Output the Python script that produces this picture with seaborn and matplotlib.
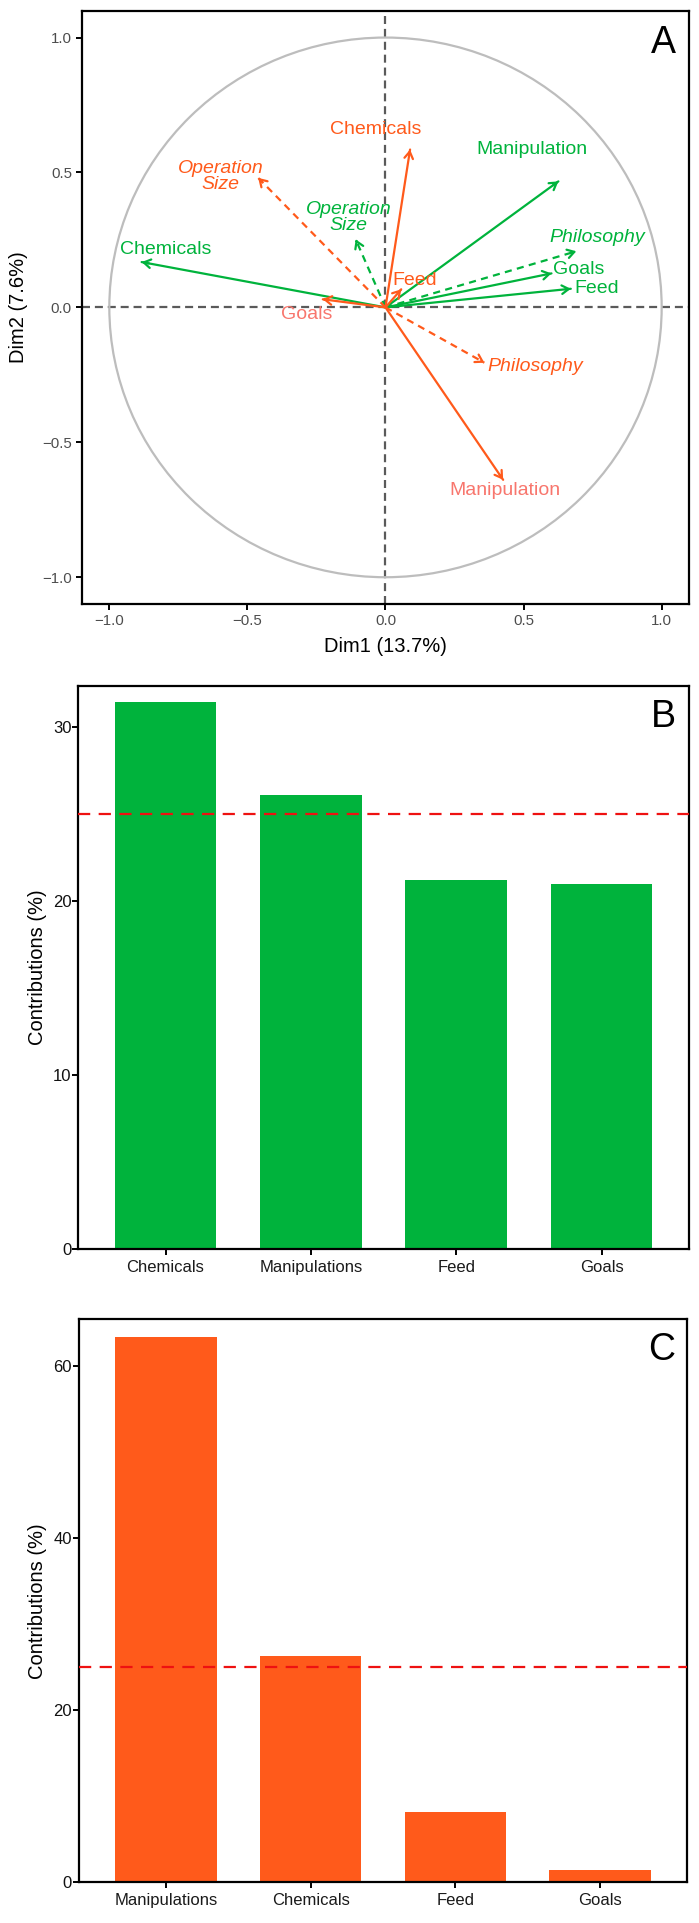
import pandas as pd
import seaborn as sns
import matplotlib.pyplot as plt
from matplotlib.patches import Circle

sns.set_style("ticks")
plt.rcParams['font.family'] = ['Liberation Sans', 'DejaVu Sans']
plt.rcParams['text.color'] = 'black'
plt.rcParams['axes.labelcolor'] = 'black'

GREEN = "#00B33C"
ORANGE = "#FF5A1B"
SALMON = "#F8766D"

# Panel A: variable loadings on Dim1 / Dim2
green_vars = ["Chemicals", "Manipulation", "Philosophy", "Goals", "Feed", "Operation\nSize"]
green_dim1 = [-0.883, 0.626, 0.691, 0.601, 0.671, -0.108]
green_dim2 = [0.168, 0.467, 0.208, 0.126, 0.069, 0.252]

orange_vars = ["Chemicals", "Operation\nSize", "Feed", "Goals", "Philosophy", "Manipulation"]
orange_dim1 = [0.089, -0.461, 0.057, -0.227, 0.358, 0.426]
orange_dim2 = [0.585, 0.480, 0.067, 0.030, -0.205, -0.639]

dashed_vars = ["Philosophy", "Operation\nSize"]

# Panel B / C: contributions (%)
b_cats = ["Chemicals", "Manipulations", "Feed", "Goals"]
b_vals = [31.4, 26.07, 21.21, 20.98]
c_cats = ["Manipulations", "Chemicals", "Feed", "Goals"]
c_vals = [63.3, 26.27, 8.15, 1.42]
expected = 25

# label placement (centre of each label) for panel A
green_lab = {"Chemicals": (-0.796, 0.215), "Manipulation": (0.529, 0.587),
             "Philosophy": (0.765, 0.258), "Goals": (0.701, 0.141),
             "Feed": (0.764, 0.069), "Operation\nSize": (-0.133, 0.332)}
orange_lab = {"Chemicals": (-0.034, 0.659), "Operation\nSize": (-0.597, 0.485),
              "Feed": (0.105, 0.100), "Goals": (-0.287, -0.028),
              "Philosophy": (0.541, -0.219), "Manipulation": (0.433, -0.680)}
orange_lab_color = {"Goals": SALMON, "Manipulation": SALMON}

fig = plt.figure(figsize=(6.99, 19.23), dpi=100)
axA = fig.add_axes([0.1169, 0.6858, 0.8692, 0.3087])
axB = fig.add_axes([0.1120, 0.3503, 0.8734, 0.2931])
axC = fig.add_axes([0.1130, 0.02117, 0.8698, 0.2928])

for ax in (axA, axB, axC):
    for s in ax.spines.values():
        s.set_color("black")
        s.set_linewidth(1.6)
    ax.tick_params(direction="out", length=4, width=1.4, color="black")

# ---- Panel A
axA.axhline(0, color="#5a5a5a", lw=1.6, dashes=(3.6, 2.2), zorder=1)
axA.axvline(0, color="#5a5a5a", lw=1.6, dashes=(3.6, 2.2), zorder=1)
axA.add_patch(Circle((0, 0), 1, fill=False, ec="#BDBDBD", lw=1.6, zorder=1))

def draw_arrows(names, xs, ys, color, labpos, labcol):
    for n, x, y in zip(names, xs, ys):
        ls = (0, (3.2, 2.4)) if n in dashed_vars else "-"
        axA.plot([0, x], [0, y], color=color, lw=1.6, linestyle=ls, zorder=3)
        axA.annotate("", xy=(x, y), xytext=(x * 0.97, y * 0.97),
                     arrowprops=dict(arrowstyle="->,head_length=0.45,head_width=0.28",
                                     color=color, lw=1.6, shrinkA=0, shrinkB=0,
                                     mutation_scale=11), zorder=3)
        lx, ly = labpos[n]
        style = "italic" if n in dashed_vars else "normal"
        axA.text(lx, ly, n, color=labcol.get(n, color), fontsize=14, ha="center",
                 va="center", fontstyle=style, linespacing=0.9, zorder=4)

draw_arrows(green_vars, green_dim1, green_dim2, GREEN, green_lab, {})
draw_arrows(orange_vars, orange_dim1, orange_dim2, ORANGE, orange_lab, orange_lab_color)

axA.set_xlim(-1.1, 1.1)
axA.set_ylim(-1.1, 1.1)
axA.set_xticks([-1, -0.5, 0, 0.5, 1])
axA.set_yticks([-1, -0.5, 0, 0.5, 1])
axA.set_xticklabels(["\u22121.0", "\u22120.5", "0.0", "0.5", "1.0"])
axA.set_yticklabels(["\u22121.0", "\u22120.5", "0.0", "0.5", "1.0"])
axA.tick_params(labelsize=10.8, labelcolor="#4D4D4D", pad=3)
axA.set_xlabel("Dim1 (13.7%)", fontsize=14.5)
axA.set_ylabel("Dim2 (7.6%)", fontsize=14.5)
axA.xaxis.set_label_coords(0.5, -0.055)
axA.yaxis.set_label_coords(-0.088, 0.5)
axA.text(0.958, 0.945, "A", transform=axA.transAxes, ha="center", va="center",
         fontsize=27, color="black")

# ---- Panels B and C
def bar_panel(ax, cats, vals, color, ymax, yticks, letter):
    df = pd.DataFrame({"var": cats, "contrib": vals})
    sns.barplot(data=df, x="var", y="contrib", order=cats, color=color,
                saturation=1, width=0.7, linewidth=0, ax=ax, zorder=2)
    ax.axhline(expected, color="#EE1111", lw=1.6, dashes=(5.5, 3.8), zorder=3)
    ax.set_xlim(-0.6, 3.6)
    ax.set_ylim(0, ymax)
    ax.set_yticks(yticks)
    ax.set_xlabel("")
    ax.set_ylabel("Contributions (%)", fontsize=14.5)
    ax.yaxis.set_label_coords(-0.052, 0.5)
    ax.tick_params(axis="y", labelsize=12, labelcolor="#111111", pad=1)
    ax.tick_params(axis="x", labelsize=12, labelcolor="#1A1A1A", pad=4)
    ax.text(0.958, 0.945, letter, transform=ax.transAxes, ha="center", va="center",
            fontsize=27, color="black")

bar_panel(axB, b_cats, b_vals, GREEN, 32.35, [0, 10, 20, 30], "B")
bar_panel(axC, c_cats, c_vals, ORANGE, 65.4, [0, 20, 40, 60], "C")

fig.savefig("out.png", dpi=100)
